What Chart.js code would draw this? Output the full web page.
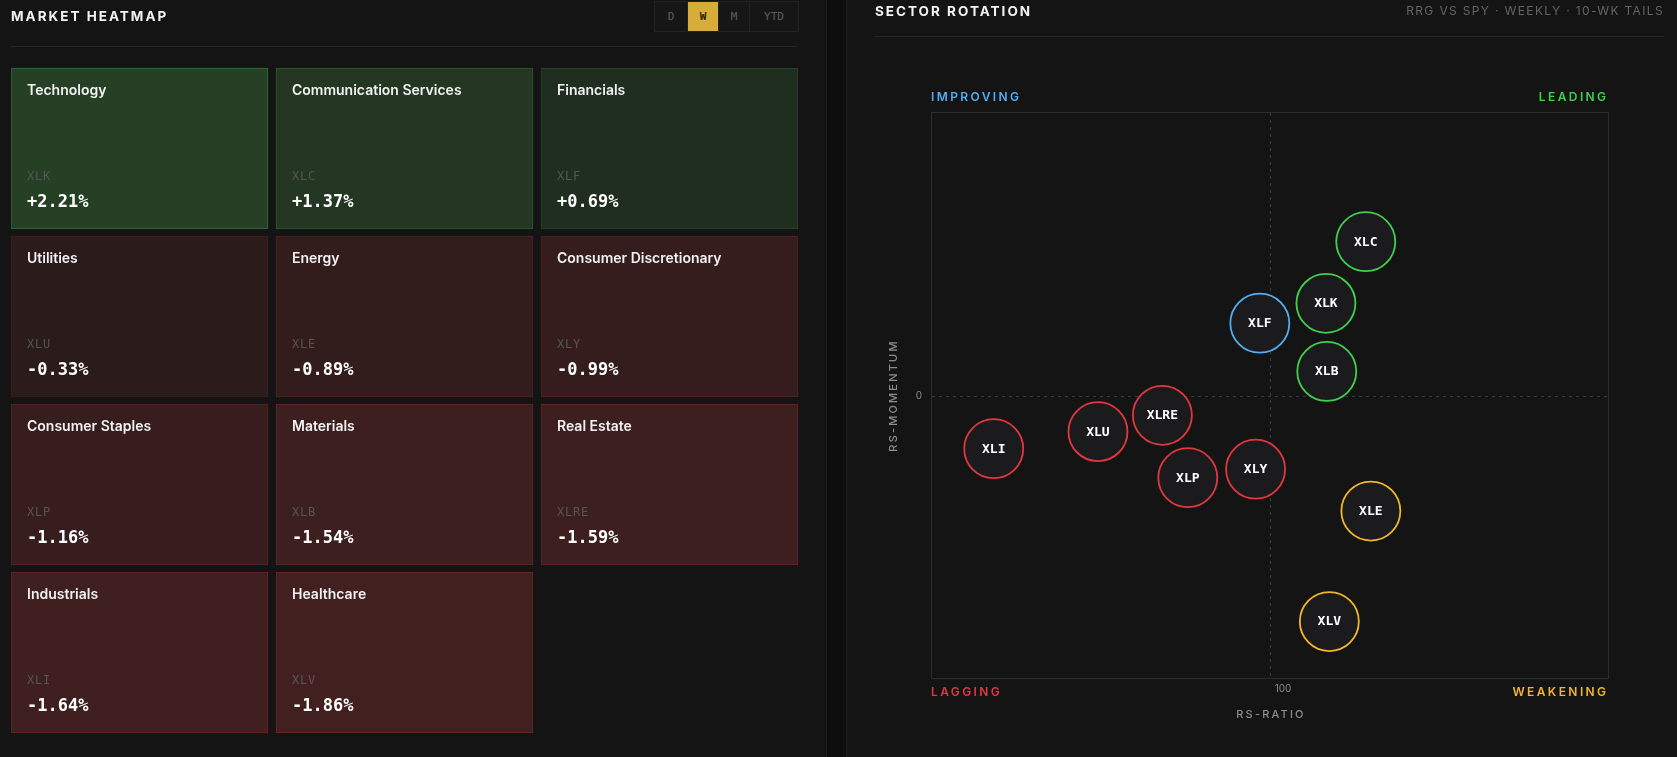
<!DOCTYPE html>
<html>
<head>
<meta charset="utf-8">
<script src="https://cdn.jsdelivr.net/npm/chart.js@4.4.1/dist/chart.umd.min.js"></script>
<style>
  html,body{margin:0;padding:0;background:#141414;}
  body{width:1677px;height:757px;overflow:hidden;position:relative;font-family:Inter,"DejaVu Sans",sans-serif;}
  .abs{position:absolute;}
  #leftTitle{left:11px;top:7px;font:700 13.5px/18px Inter,sans-serif;letter-spacing:2px;color:#f2f2f2;}
  #btns{left:654px;top:1px;width:143px;height:29px;border:1px solid #222;display:flex;background:#161616;}
  #btns div{height:29px;text-align:center;font:11px/29px "DejaVu Sans Mono",monospace;color:#5f5f5f;border-right:1px solid #222;box-sizing:border-box;}
  #btns div:last-child{border-right:none;}
  #btns div.on{background:#d8ac38;color:#2a1e00;font-weight:700;}
  #leftRule{left:11px;top:46px;width:787px;height:1px;background:#262626;}
  #strip{left:826px;top:0;width:21px;height:757px;background:#0e0e0e;border-left:1px solid #1d1d1d;border-right:1px solid #1d1d1d;box-sizing:border-box;}
  #rightTitle{left:875px;top:2px;font:700 13.5px/18px Inter,sans-serif;letter-spacing:2px;color:#f2f2f2;}
  #rightSub{right:13px;top:3px;font:400 12px/16px Inter,sans-serif;letter-spacing:1.35px;color:#646464;}
  #rightRule{left:875px;top:36px;width:789px;height:1px;background:#262626;}
  canvas{position:absolute;top:0;}
</style>
</head>
<body>
<canvas id="heat" width="826" height="757" style="left:0;width:826px;height:757px;"></canvas>
<canvas id="rrg" width="830" height="757" style="left:847px;width:830px;height:757px;"></canvas>
<div id="leftTitle" class="abs">MARKET HEATMAP</div>
<div id="btns" class="abs"></div>
<div id="leftRule" class="abs"></div>
<div id="strip" class="abs"></div>
<div id="rightTitle" class="abs">SECTOR ROTATION</div>
<div id="rightSub" class="abs">RRG VS SPY · WEEKLY · 10-WK TAILS</div>
<div id="rightRule" class="abs"></div>
<script>
// ---------- DATA ----------
const periods = ['D', 'W', 'M', 'YTD'];
const activePeriod = 'W';

const sectorNames = ['Technology', 'Communication Services', 'Financials',
  'Utilities', 'Energy', 'Consumer Discretionary',
  'Consumer Staples', 'Materials', 'Real Estate',
  'Industrials', 'Healthcare'];
const sectorTickers = ['XLK', 'XLC', 'XLF', 'XLU', 'XLE', 'XLY', 'XLP', 'XLB', 'XLRE', 'XLI', 'XLV'];
const sectorChanges = [2.21, 1.37, 0.69, -0.33, -0.89, -0.99, -1.16, -1.54, -1.59, -1.64, -1.86];

const rrgTickers = ['XLC', 'XLK', 'XLF', 'XLB', 'XLRE', 'XLU', 'XLI', 'XLY', 'XLP', 'XLE', 'XLV'];
const rsRatio = [101.13, 100.66, 99.88, 100.67, 98.73, 97.97, 96.74, 99.83, 99.03, 101.19, 100.70];
const rsMomentum = [2.17, 1.30, 1.02, 0.34, -0.28, -0.51, -0.75, -1.04, -1.16, -1.63, -3.19];
const xTickLabels = [100];
const yTickLabels = [0];
const xCenter = 100, yCenter = 0;

// ---------- BUTTONS ----------
const btnWidths = [33, 31, 31, 48];
const btns = document.getElementById('btns');
periods.forEach((p, i) => {
  const d = document.createElement('div');
  d.textContent = p;
  d.style.width = btnWidths[i] + 'px';
  if (p === activePeriod) d.className = 'on';
  btns.appendChild(d);
});

// ---------- HEATMAP ----------
const COLS = 3;
const ROWS = Math.ceil(sectorNames.length / COLS);
const rowLabels = Array.from({length: ROWS}, (_, r) => 'r' + r);
const TILE_SPAN = 257 / 265;

function tileT(v) { return 0.35 + 0.65 * Math.min(Math.abs(v) / 2, 1); }
function tileFill(v) {
  const t = tileT(v);
  return v >= 0
    ? `rgb(${Math.round(22 + 16 * t)},${Math.round(22 + 42 * t)},${Math.round(22 + 16 * t)})`
    : `rgb(${Math.round(22 + 46 * t)},${Math.round(22 + 10 * t)},${Math.round(22 + 10 * t)})`;
}
function tileBorder(v) {
  const t = tileT(v);
  return v >= 0
    ? `rgb(${Math.round(22 + 28 * t)},${Math.round(22 + 84 * t)},${Math.round(22 + 30 * t)})`
    : `rgb(${Math.round(22 + 92 * t)},${Math.round(22 + 16 * t)},${Math.round(22 + 16 * t)})`;
}

const heatDatasets = [];
for (let c = 0; c < COLS; c++) {
  const data = rowLabels.map((_, r) => {
    const idx = r * COLS + c;
    return idx < sectorNames.length ? [c, c + TILE_SPAN] : null;
  });
  const colIdx = c;
  heatDatasets.push({
    data,
    grouped: false,
    barThickness: 161,
    borderWidth: 1,
    borderSkipped: false,
    backgroundColor: (ctx) => { const i = ctx.dataIndex * COLS + colIdx; return i < sectorChanges.length ? tileFill(sectorChanges[i]) : 'transparent'; },
    borderColor: (ctx) => { const i = ctx.dataIndex * COLS + colIdx; return i < sectorChanges.length ? tileBorder(sectorChanges[i]) : 'transparent'; }
  });
}

const tileLabels = {
  id: 'tileLabels',
  afterDatasetsDraw(chart) {
    const ctx = chart.ctx;
    ctx.save();
    ctx.textAlign = 'left';
    ctx.textBaseline = 'middle';
    chart.data.datasets.forEach((ds, c) => {
      chart.getDatasetMeta(c).data.forEach((el, r) => {
        const idx = r * COLS + c;
        if (idx >= sectorNames.length || ds.data[r] == null) return;
        const left = Math.min(el.base, el.x);
        const top = el.y - el.height / 2;
        ctx.letterSpacing = '0px';
        ctx.fillStyle = '#f1f1f1';
        ctx.font = '600 14px Inter, sans-serif';
        ctx.fillText(sectorNames[idx], left + 16, top + 22.5);
        ctx.fillStyle = '#555555';
        ctx.font = '12px "DejaVu Sans Mono", monospace';
        ctx.letterSpacing = '0.8px';
        ctx.fillText(sectorTickers[idx], left + 16, top + 109);
        ctx.letterSpacing = '0px';
        const v = sectorChanges[idx];
        ctx.fillStyle = '#ffffff';
        ctx.font = 'bold 17px "DejaVu Sans Mono", monospace';
        ctx.fillText((v > 0 ? '+' : '') + v.toFixed(2) + '%', left + 16, top + 134.5);
      });
    });
    ctx.restore();
  }
};

new Chart(document.getElementById('heat'), {
  type: 'bar',
  data: { labels: rowLabels, datasets: heatDatasets },
  options: {
    indexAxis: 'y',
    responsive: false,
    animation: false,
    events: [],
    layout: { padding: { left: 11, right: 20, top: 64.5, bottom: 20.5 } },
    plugins: { legend: { display: false }, tooltip: { enabled: false } },
    scales: {
      x: { type: 'linear', min: 0, max: COLS, display: false },
      y: { type: 'category', labels: rowLabels, display: false }
    }
  },
  plugins: [tileLabels]
});

// ---------- RRG ----------
const QUAD = {
  leading: '#3ecf4e',
  improving: '#52adf2',
  lagging: '#e2373f',
  weakening: '#f3b52a'
};
function quadrant(x, y) {
  if (x >= xCenter) return y >= yCenter ? 'leading' : 'weakening';
  return y >= yCenter ? 'improving' : 'lagging';
}
const BUBBLE_R = 29.5;

const rrgDecor = {
  id: 'rrgDecor',
  beforeDatasetsDraw(chart) {
    const {ctx, chartArea: a, scales: {x, y}} = chart;
    ctx.save();
    ctx.strokeStyle = '#2c2c2c';
    ctx.lineWidth = 1;
    ctx.strokeRect(a.left + 0.5, a.top + 0.5, a.right - a.left - 1, a.bottom - a.top - 1);
    ctx.strokeStyle = '#3a3a3a';
    ctx.lineWidth = 1.2;
    ctx.setLineDash([3, 4]);
    const cx = Math.round(x.getPixelForValue(xCenter)) + 0.5;
    const cy = Math.round(y.getPixelForValue(yCenter)) + 0.5;
    ctx.beginPath(); ctx.moveTo(cx, a.top + 1); ctx.lineTo(cx, a.bottom - 1); ctx.stroke();
    ctx.beginPath(); ctx.moveTo(a.left + 1, cy); ctx.lineTo(a.right - 1, cy); ctx.stroke();
    ctx.restore();
  },
  afterDatasetsDraw(chart) {
    const {ctx, chartArea: a, scales: {x, y}} = chart;
    ctx.save();
    // bubble labels
    ctx.textAlign = 'center';
    ctx.textBaseline = 'middle';
    ctx.font = 'bold 13px "DejaVu Sans Mono", monospace';
    ctx.fillStyle = '#ffffff';
    chart.getDatasetMeta(0).data.forEach((el, i) => {
      ctx.fillText(rrgTickers[i], el.x, el.y + 0.5);
    });
    // quadrant labels
    ctx.font = '600 12px Inter, sans-serif';
    ctx.letterSpacing = '2.4px';
    ctx.textAlign = 'left';
    ctx.fillStyle = QUAD.improving; ctx.fillText('IMPROVING', a.left, a.top - 15);
    ctx.fillStyle = QUAD.lagging; ctx.fillText('LAGGING', a.left, a.bottom + 13);
    ctx.textAlign = 'right';
    ctx.fillStyle = QUAD.leading; ctx.fillText('LEADING', a.right - 0.5, a.top - 15);
    ctx.fillStyle = QUAD.weakening; ctx.fillText('WEAKENING', a.right - 0.5, a.bottom + 13);
    // tick labels
    ctx.letterSpacing = '0px';
    ctx.font = '10px Inter, sans-serif';
    ctx.fillStyle = '#8a8a8a';
    ctx.textAlign = 'center';
    xTickLabels.forEach(v => ctx.fillText(String(v), x.getPixelForValue(v) + 13, a.bottom + 9.5));
    ctx.textAlign = 'right';
    yTickLabels.forEach(v => ctx.fillText(String(v), a.left - 9, y.getPixelForValue(v)));
    // axis titles
    ctx.font = '500 11px Inter, sans-serif';
    ctx.letterSpacing = '2.2px';
    ctx.fillStyle = '#8c8c8c';
    ctx.textAlign = 'center';
    ctx.fillText('RS-RATIO', x.getPixelForValue(xCenter) + 1, a.bottom + 36);
    ctx.translate(a.left - 37, y.getPixelForValue(yCenter) + 1);
    ctx.rotate(-Math.PI / 2);
    ctx.fillText('RS-MOMENTUM', 1, 0);
    ctx.restore();
  }
};

new Chart(document.getElementById('rrg'), {
  type: 'bubble',
  data: {
    datasets: [{
      data: rrgTickers.map((t, i) => ({ x: rsRatio[i], y: rsMomentum[i], r: BUBBLE_R })),
      backgroundColor: '#1b1b1d',
      borderColor: (ctx) => QUAD[quadrant(rsRatio[ctx.dataIndex], rsMomentum[ctx.dataIndex])],
      borderWidth: 1.8,
      clip: false
    }]
  },
  options: {
    responsive: false,
    animation: false,
    events: [],
    layout: { padding: { left: 84, right: 68, top: 112, bottom: 78 } },
    plugins: { legend: { display: false }, tooltip: { enabled: false } },
    scales: {
      x: { type: 'linear', min: 96, max: 104, display: false },
      y: { type: 'linear', min: -4, max: 4, display: false }
    }
  },
  plugins: [rrgDecor]
});
</script>
</body>
</html>
